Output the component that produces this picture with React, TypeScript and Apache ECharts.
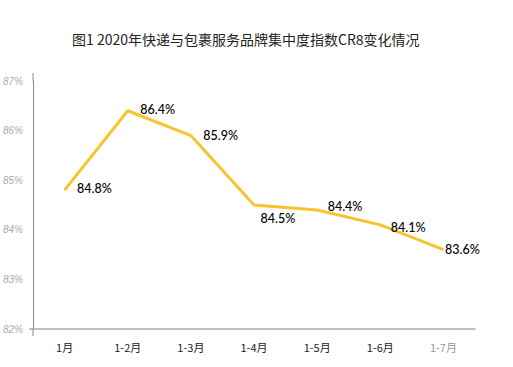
import React, { useEffect, useRef } from "react";
import * as echarts from "echarts";

const title = "图1 2020年快递与包裹服务品牌集中度指数CR8变化情况";
const categories = ["1月", "1-2月", "1-3月", "1-4月", "1-5月", "1-6月", "1-7月"];
const values = [84.8, 86.4, 85.9, 84.5, 84.4, 84.1, 83.6];
const labelOffsets: [number, number][] = [
  [2, -2],
  [2, -1],
  [2, 0],
  [-4, 13],
  [0, -3],
  [0, 3],
  [-9, 0],
];

export default function App() {
  const ref = useRef<HTMLDivElement>(null);
  useEffect(() => {
    const chart = echarts.init(ref.current!, undefined, { renderer: "svg" });
    chart.setOption({
      animation: false,
      backgroundColor: "#fff",
      title: {
        text: title,
        left: 67,
        top: 27,
        textStyle: {
          fontFamily: "Noto Sans CJK SC",
          fontSize: 14,
          fontWeight: "normal",
          color: "#222",
        },
      },
      grid: { left: 33, right: 38, top: 81, bottom: 38 },
      xAxis: {
        type: "category",
        data: categories.map((c, i) =>
          i === categories.length - 1 ? { value: c, textStyle: { color: "#999" } } : c
        ),
        axisLine: { lineStyle: { color: "#aaa", width: 1.5 } },
        axisTick: { show: false },
        axisLabel: {
          color: "#222",
          fontSize: 11,
          margin: 12,
          fontFamily: "Noto Sans CJK SC",
        },
      },
      yAxis: {
        type: "value",
        min: 82,
        max: 87,
        interval: 1,
        splitLine: { show: false },
        axisLine: { show: true, lineStyle: { color: "#888", width: 1 } },
        axisTick: { show: false },
        axisLabel: {
          formatter: "{value}%",
          color: "#aaa",
          fontStyle: "italic",
          fontSize: 10,
          margin: 10,
          fontFamily: "Liberation Sans",
        },
      },
      graphic: [
        {
          type: "line",
          shape: { x1: 33, y1: 73, x2: 33, y2: 81 },
          style: { stroke: "#888", lineWidth: 1 },
        },
        {
          type: "line",
          shape: { x1: 33, y1: 329, x2: 33, y2: 336 },
          style: { stroke: "#888", lineWidth: 1 },
        },
        {
          type: "line",
          shape: { x1: 29, y1: 329, x2: 33, y2: 329 },
          style: { stroke: "#aaa", lineWidth: 1.5 },
        },
      ],
      series: [
        {
          type: "line",
          data: values.map((v, i) => ({
            value: v,
            label: { offset: labelOffsets[i] },
          })),
          symbol: "circle",
          symbolSize: 1,
          showSymbol: true,
          lineStyle: { color: "#F8C42D", width: 3 },
          itemStyle: { color: "rgba(0,0,0,0)" },
          label: {
            show: true,
            position: "right",
            distance: 10,
            formatter: "{c}%",
            color: "#000",
            fontSize: 12.5,
            fontWeight: 500,
            fontFamily: "Lato",
          },
        },
      ],
    });
    return () => chart.dispose();
  }, []);
  return (
    <div
      ref={ref}
      style={{ position: "absolute", left: 0, top: 0, width: 513, height: 367 }}
    />
  );
}
